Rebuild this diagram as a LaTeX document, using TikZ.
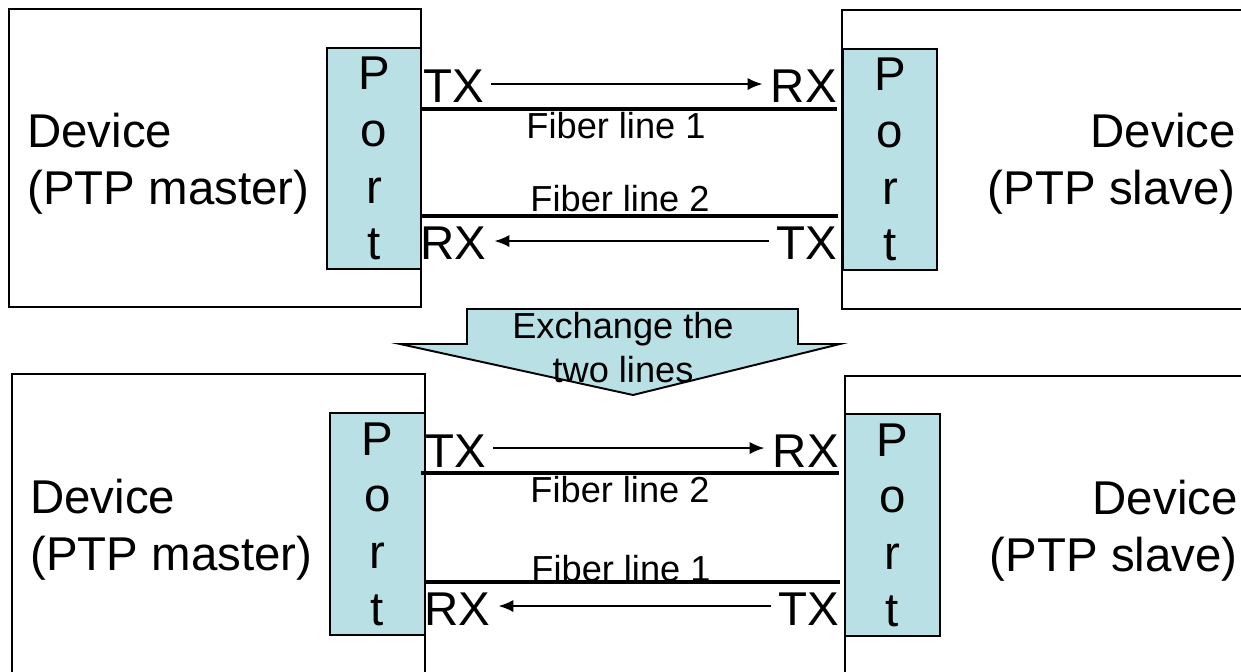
\documentclass[tikz,border=0pt]{standalone}
\usepackage{fontspec}
\setmainfont{Liberation Sans}
\usepackage{xcolor}
\usepackage{tikz}
\usetikzlibrary{arrows.meta}

\definecolor{portcyan}{RGB}{185,224,228}

\begin{document}
\begin{tikzpicture}[x=0.02cm,y=-0.02cm,
    device/.style={draw,line width=1.1pt,inner sep=0pt},
    port/.style={draw,line width=1.1pt,fill=portcyan,inner sep=0pt,
      minimum width=1.88cm,minimum height=4.42cm,align=center,
      font=\fontsize{27}{32.3}\selectfont},
    devtext/.style={inner sep=0pt,font=\fontsize{27}{32.3}\selectfont},
    sig/.style={inner sep=0pt,font=\fontsize{27}{32.3}\selectfont},
    fiber/.style={line width=1.8pt},
    flabel/.style={inner sep=0pt,font=\fontsize{20.6}{25}\selectfont},
    flow/.style={line width=1.1pt,-{Latex[length=8.5pt,width=7pt]},
      shorten <=4pt,shorten >=4.5pt}]

    \useasboundingbox (0,0) rectangle (1241,672);
    \clip (0,0) rectangle (1241,672);

    % Top: before the exchange
    \node[device,minimum width=8.24cm,minimum height=5.96cm] (devTL) at (215,158) {};
    \node[device,minimum width=8.36cm,minimum height=5.98cm] (devTR) at (1051,159.5) {};
    \node[port] (portTL) at (374,158.5) {P\\o\\r\\t};
    \node[port] (portTR) at (890,159.5) {P\\o\\r\\t};

    \node[devtext,align=left,anchor=north west] (txtTL) at (27,113) {Device\\(PTP master)};
    \node[devtext,align=right,anchor=north east] (txtTR) at (1236,113) {Device\\(PTP slave)};

    \node[sig,anchor=base west] (txTL) at (423,103) {TX};
    \node[sig,anchor=base east] (rxTR) at (837,103) {RX};
    \node[sig,anchor=base west] (rxTL) at (420,260) {RX};
    \node[sig,anchor=base east] (txTR) at (837,260) {TX};
    \draw[flow] ([yshift=1.5pt]txTL.east) -- ([yshift=1.5pt]rxTR.west);
    \draw[flow] ([yshift=1.5pt]txTR.west) -- ([yshift=1.5pt]rxTL.east);

    \coordinate (A) at (420,109);
    \coordinate (B) at (837,109);
    \coordinate (C) at (421,216);
    \coordinate (D) at (838,216);
    \draw[fiber] (A) -- (B);
    \draw[fiber] (C) -- (D);
    \node[flabel,anchor=base] (fiberT1) at (616,139) {Fiber line 1};
    \node[flabel,anchor=base] (fiberT2) at (620,212) {Fiber line 2};

    % Exchange arrow
    \draw[line width=1.1pt,fill=portcyan]
      (467,309) -- (798,309) -- (798,344) -- (840,344) -- (633,395)
      -- (400,344) -- (467,344) -- cycle;
    \node[flabel,align=center,anchor=north] (swap) at (623,312) {Exchange the\\two lines};

    % Bottom: after the exchange
    \node[device,minimum width=8.26cm,minimum height=6.52cm] (devBL) at (218.5,537) {};
    \node[device,minimum width=8.3cm,minimum height=6.48cm] (devBR) at (1052.5,538) {};
    \node[port,minimum width=1.9cm,minimum height=4.44cm] (portBL) at (377.5,524) {P\\o\\r\\t};
    \node[port,minimum width=1.9cm,minimum height=4.44cm] (portBR) at (892.5,525) {P\\o\\r\\t};

    \node[devtext,align=left,anchor=north west] (txtBL) at (30,479) {Device\\(PTP master)};
    \node[devtext,align=right,anchor=north east] (txtBR) at (1238,480) {Device\\(PTP slave)};

    \node[sig,anchor=base west] (txBL) at (425,467) {TX};
    \node[sig,anchor=base east] (rxBR) at (839,467) {RX};
    \node[sig,anchor=base west] (rxBL) at (424,625) {RX};
    \node[sig,anchor=base east] (txBR) at (839,625) {TX};
    \draw[flow] ([yshift=1.5pt]txBL.east) -- ([yshift=1.5pt]rxBR.west);
    \draw[flow] ([yshift=1.5pt]txBR.west) -- ([yshift=1.5pt]rxBL.east);

    \coordinate (E) at (421,473);
    \coordinate (F) at (839,473);
    \coordinate (G) at (424,582);
    \coordinate (H) at (840,582);
    \draw[fiber] (E) -- (F);
    \draw[fiber] (G) -- (H);
    \node[flabel,anchor=base] (fiberB2) at (620,502) {Fiber line 2};
    \node[flabel,anchor=base] (fiberB1) at (621,581) {Fiber line 1};

\end{tikzpicture}
\end{document}
